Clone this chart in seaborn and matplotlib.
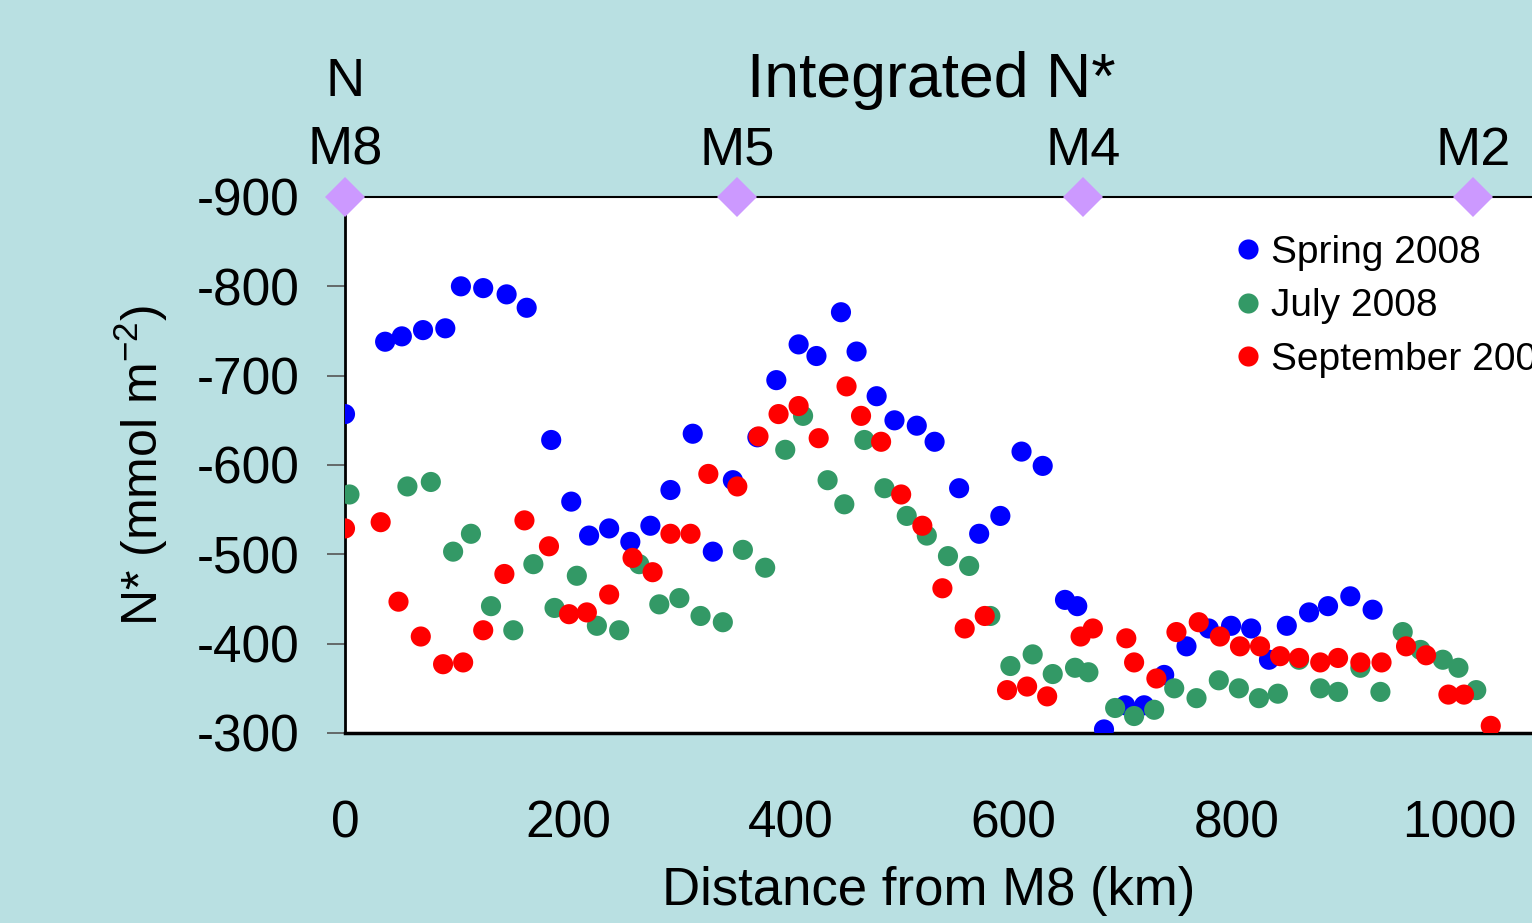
import pandas as pd
import numpy as np
import matplotlib
matplotlib.use("Agg")
import matplotlib.pyplot as plt
import matplotlib.transforms as mtransforms
import seaborn as sns

# N* along the transect (km from M8, mmol m-2)
spring_km = [0, 36, 51, 70, 90, 104, 124, 145, 163, 185, 203, 219, 237, 256, 274,
             292, 312, 330, 348, 370, 387, 407, 423, 445, 459, 477, 493, 513, 529, 551,
             569, 588, 607, 626, 646, 657, 681, 700, 717, 735, 755, 775, 795, 813, 829,
             845, 865, 882, 902, 922]
spring_n = [-657, -738, -744, -751, -753, -800, -798, -791, -776, -628, -559, -521, -529, -514, -532,
            -572, -635, -503, -583, -631, -695, -735, -722, -771, -727, -677, -650, -644, -626, -574,
            -523, -543, -615, -599, -449, -442, -304, -331, -331, -365, -397, -417, -420, -417, -382,
            -420, -435, -442, -453, -438]

july_km = [4, 56, 77, 97, 113, 131, 151, 169, 188, 208, 226, 246, 264, 282, 300,
           319, 339, 357, 377, 395, 411, 433, 448, 466, 484, 504, 522, 541, 560, 579,
           597, 617, 635, 655, 667, 691, 708, 726, 744, 764, 784, 802, 820, 837, 856,
           875, 891, 911, 929, 949, 965, 985, 999, 1015]
july_n = [-567, -576, -581, -503, -523, -442, -415, -489, -440, -476, -420, -415, -489, -444, -451,
          -431, -424, -505, -485, -617, -655, -583, -556, -628, -574, -543, -521, -498, -487, -431,
          -375, -388, -366, -373, -368, -328, -319, -326, -350, -339, -359, -350, -339, -344, -382,
          -350, -346, -373, -346, -413, -393, -382, -373, -348]

sept_km = [0, 32, 48, 68, 88, 106, 124, 143, 161, 183, 201, 217, 237, 258, 276,
           292, 310, 326, 352, 371, 389, 407, 425, 450, 463, 481, 499, 518, 536, 556,
           574, 594, 612, 630, 660, 671, 701, 708, 728, 746, 766, 785, 803, 821, 839,
           856, 875, 891, 911, 930, 952, 970, 990, 1004, 1028]
sept_n = [-529, -536, -447, -408, -377, -379, -415, -478, -538, -509, -433, -435, -455, -496, -480,
          -523, -523, -590, -576, -632, -657, -666, -630, -688, -655, -626, -567, -532, -462, -417,
          -431, -348, -352, -341, -408, -417, -406, -379, -361, -413, -424, -408, -397, -397, -386,
          -384, -379, -384, -379, -379, -397, -387, -343, -343, -308]

station_names = ["M8", "M5", "M4", "M2"]
station_km = [0, 352, 662, 1012]

survey_labels = ["Spring 2008", "July 2008", "September 2008"]
survey_colors = ["#0000ff", "#339966", "#ff0000"]

df = pd.concat([
    pd.DataFrame({"km": spring_km, "nstar": spring_n, "survey": survey_labels[0]}),
    pd.DataFrame({"km": july_km, "nstar": july_n, "survey": survey_labels[1]}),
    pd.DataFrame({"km": sept_km, "nstar": sept_n, "survey": survey_labels[2]}),
], ignore_index=True)

sns.set_style("white")
plt.rcParams["font.family"] = ["Liberation Sans", "DejaVu Sans"]
plt.rcParams["text.color"] = "black"
plt.rcParams["axes.labelcolor"] = "black"
plt.rcParams["xtick.color"] = "black"
plt.rcParams["ytick.color"] = "black"
plt.rcParams["axes.unicode_minus"] = False
plt.rcParams["mathtext.fontset"] = "custom"
plt.rcParams["mathtext.rm"] = "Liberation Sans"
plt.rcParams["mathtext.it"] = "Liberation Sans"

bg = "#b9e0e2"
fig = plt.figure(figsize=(15.32, 9.23), dpi=100, facecolor=bg)
ax = fig.add_axes([345 / 1532, 190 / 923, 1226 / 1532, 536 / 923])
ax.set_facecolor("white")

sns.scatterplot(data=df, x="km", y="nstar", hue="survey", hue_order=survey_labels,
                palette=dict(zip(survey_labels, survey_colors)), s=210, linewidth=0,
                ax=ax, legend=True, zorder=3)

ax.set_xlim(0, 1100)
ax.set_ylim(-300, -900)
ax.set_xticks([0, 200, 400, 600, 800, 1000])
ax.set_yticks([-900, -800, -700, -600, -500, -400, -300])
ax.tick_params(axis="x", direction="in", length=13, width=1.2, color="#555555",
               labelsize=37, pad=48)
ax.tick_params(axis="y", direction="out", length=13, width=1.2, color="#555555",
               labelsize=37, pad=20, left=True)
ax.set_xlabel("")
ax.set_ylabel("N* (mmol m$^{-2}$)", fontsize=36, labelpad=19)

for side in ["left", "bottom", "top"]:
    ax.spines[side].set_color("black")
ax.spines["left"].set_linewidth(2)
ax.spines["bottom"].set_linewidth(2.5)
ax.spines["top"].set_linewidth(1.5)
ax.spines["right"].set_visible(False)

# station markers along the top
ax.plot(station_km, [-900] * len(station_km), linestyle="none", marker="D",
        markersize=20, color="#cc99ff", markeredgewidth=0, clip_on=False, zorder=5)
trans = mtransforms.blended_transform_factory(ax.transData, ax.transAxes)
for name, km in zip(station_names, station_km):
    ax.text(km, 1.086, name, transform=trans, ha="center", va="center", fontsize=39)
ax.text(0, 1.214, "N", transform=trans, ha="center", va="center", fontsize=39)

fig.text(931 / 1532, 1 - 81 / 923, "Integrated N*", ha="center", va="center", fontsize=45)
fig.text(929 / 1532, 1 - 891 / 923, "Distance from M8 (km)", ha="center", va="center", fontsize=38)

handles, labels = ax.get_legend_handles_labels()
leg = ax.legend(handles, labels, loc="upper left", bbox_to_anchor=(1234 / 1532, 1 - 235 / 923),
                bbox_transform=fig.transFigure, frameon=False, fontsize=28,
                handlelength=0.7, handletextpad=0.25, labelspacing=0.45,
                borderpad=0, borderaxespad=0, markerscale=1.0)

fig.savefig("out.png", dpi=100, facecolor=bg)
